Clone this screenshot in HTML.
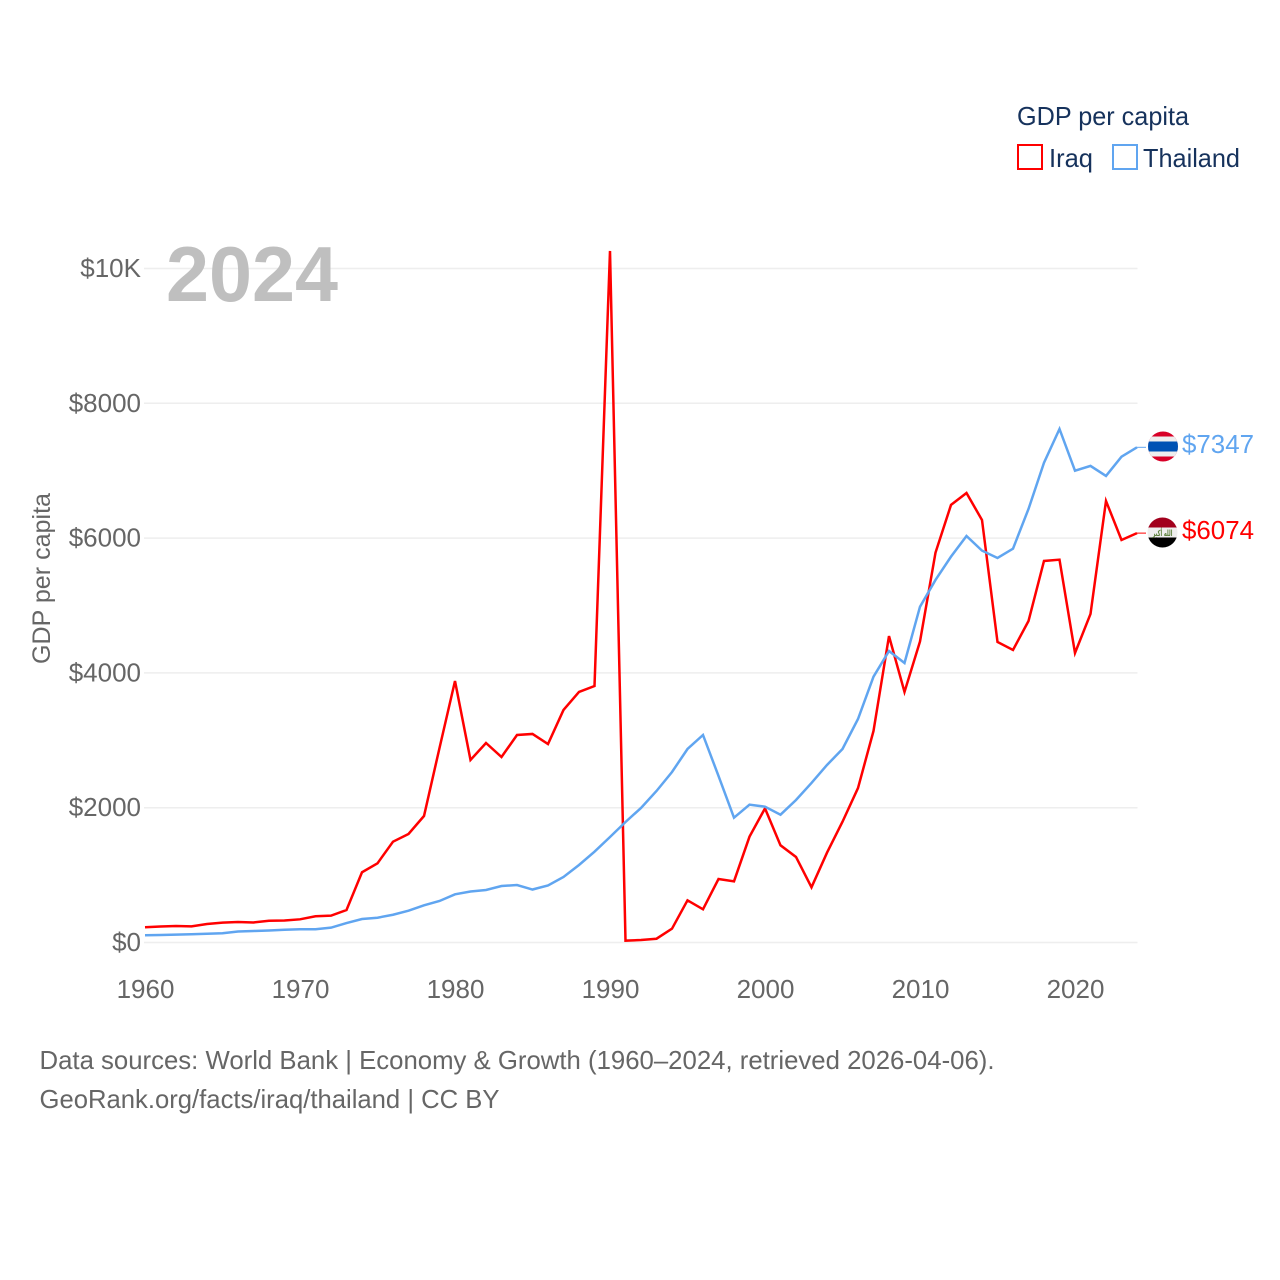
<!DOCTYPE html>
<html lang="en">
<head>
<meta charset="utf-8">
<title>GDP per capita: Iraq and Thailand</title>
<style>
html,body{margin:0;padding:0;background:#fff;width:1280px;height:1280px;overflow:hidden}
svg{display:block;font-family:"Liberation Sans",sans-serif}
</style>
</head>
<body>
<svg id="chart" xmlns="http://www.w3.org/2000/svg" width="1280" height="1280" viewBox="0 0 1280 1280">
  <defs>
    <clipPath id="flag-clip-th"><circle cx="1163" cy="446.5" r="15"/></clipPath>
    <clipPath id="flag-clip-iq"><circle cx="1162.5" cy="532.5" r="15"/></clipPath>
  </defs>
  <rect x="0" y="0" width="1280" height="1280" fill="#fff"/>
  <g id="grid"></g>
  <text x="166" y="301" font-size="78" font-weight="700" fill="#bfbfbf" textLength="172" lengthAdjust="spacingAndGlyphs">2024</text>
  <g id="y-ticks"></g>
  <g id="x-ticks"></g>
  <text transform="translate(50,578.5) rotate(-90)" text-anchor="middle" font-size="25" fill="#666" textLength="171" lengthAdjust="spacingAndGlyphs">GDP per capita</text>
  <g id="series"></g>

  <g>
    <text x="1017" y="125" font-size="26" fill="#16325c" textLength="172" lengthAdjust="spacingAndGlyphs">GDP per capita</text>
    <rect x="1018" y="145" width="24" height="24" fill="none" stroke="#ff0000" stroke-width="2"/>
    <text x="1049" y="167" font-size="26" fill="#16325c" textLength="44" lengthAdjust="spacingAndGlyphs">Iraq</text>
    <rect x="1113" y="145" width="24" height="24" fill="none" stroke="#60a5f0" stroke-width="2"/>
    <text x="1143" y="167" font-size="26" fill="#16325c" textLength="97" lengthAdjust="spacingAndGlyphs">Thailand</text>
  </g>

  <g clip-path="url(#flag-clip-th)">
    <rect x="1148" y="431.5" width="30" height="30" fill="#d80027"/>
    <rect x="1148" y="436.5" width="30" height="20" fill="#eeeeee"/>
    <rect x="1148" y="441.5" width="30" height="10" fill="#0052b4"/>
  </g>
  <g clip-path="url(#flag-clip-iq)">
    <rect x="1147" y="517" width="31" height="11" fill="#a2001d"/>
    <rect x="1147" y="527.5" width="31" height="10.5" fill="#eeeeee"/>
    <rect x="1147" y="537.5" width="31" height="11" fill="#000"/>
    <text x="1162.5" y="536" text-anchor="middle" font-size="8.5" font-weight="700" fill="#5a7f3a" textLength="20" lengthAdjust="spacingAndGlyphs" style="font-family:'DejaVu Sans',sans-serif">الله أكبر</text>
  </g>

  <text x="1182" y="453" font-size="25.5" fill="#60a5f0" textLength="72" lengthAdjust="spacingAndGlyphs">$7347</text>
  <text x="1182" y="539" font-size="25.5" fill="#ff0000" textLength="72" lengthAdjust="spacingAndGlyphs">$6074</text>

  <text x="39.5" y="1069" font-size="26" fill="#666" textLength="955" lengthAdjust="spacingAndGlyphs">Data sources: World Bank | Economy &amp; Growth (1960–2024, retrieved 2026-04-06).</text>
  <text x="39.5" y="1108" font-size="26" fill="#666" textLength="460" lengthAdjust="spacingAndGlyphs">GeoRank.org/facts/iraq/thailand | CC BY</text>
</svg>
<script>
var firstYear = 1960;
var iraqValues = [226,237,245,240,275,294,304,297,323,326,
  344,389,398,482,1042,1175,1496,1610,1877,2886,
  3880,2708,2960,2752,3079,3094,2945,3450,3717,3806,
  10260,27,37,56,205,626,493,942,908,1570,
  1990,1442,1269,819,1332,1792,2292,3138,4547,3717,
  4466,5784,6492,6669,6269,4459,4340,4770,5661,5680,
  4295,4874,6551,5972,6074];
var thailandValues = [107,111,116,122,129,137,163,171,178,190,
  197,197,220,289,349,368,412,472,552,616,
  715,757,779,838,853,786,846,972,1150,1347,
  1565,1788,1996,2248,2530,2871,3079,2471,1852,2045,
  2015,1896,2114,2367,2634,2871,3316,3944,4325,4147,
  4982,5379,5725,6032,5814,5705,5843,6432,7119,7619,
  7000,7071,6922,7208,7347];
var yTickValues = [0,2000,4000,6000,8000,10000];
var yTickLabels = ["$0","$2000","$4000","$6000","$8000","$10K"];
var xTickYears = [1960,1970,1980,1990,2000,2010,2020];

var NS = "http://www.w3.org/2000/svg";
function xScale(year){ return 145 + (year - 1960) * 15.5; }
function yScale(value){ return 942.5 - value * 0.0674; }

var gridGroup = document.getElementById("grid");
var yTickGroup = document.getElementById("y-ticks");
var xTickGroup = document.getElementById("x-ticks");
var seriesGroup = document.getElementById("series");

yTickValues.forEach(function(v, i){
  var line = document.createElementNS(NS, "line");
  line.setAttribute("x1", 144);
  line.setAttribute("x2", 1137.5);
  line.setAttribute("y1", yScale(v));
  line.setAttribute("y2", yScale(v));
  line.setAttribute("stroke", "#eeeeee");
  line.setAttribute("stroke-width", 1.5);
  
  
  gridGroup.appendChild(line);

  var t = document.createElementNS(NS, "text");
  t.setAttribute("x", 141);
  t.setAttribute("y", yScale(v) + 8.5);
  t.setAttribute("text-anchor", "end");
  t.setAttribute("font-size", 26);
  t.setAttribute("fill", "#666");
  t.textContent = yTickLabels[i];
  
  
  yTickGroup.appendChild(t);
});

xTickYears.forEach(function(year){
  var t = document.createElementNS(NS, "text");
  t.setAttribute("x", xScale(year) + 0.5);
  t.setAttribute("y", 998);
  t.setAttribute("text-anchor", "middle");
  t.setAttribute("font-size", 26);
  t.setAttribute("fill", "#666");
  t.textContent = String(year);
  
  
  xTickGroup.appendChild(t);
});

function linePoints(values){
  return values.map(function(v, i){
    return xScale(firstYear + i).toFixed(2) + "," + yScale(v).toFixed(2);
  }).join(" ");
}

var iraqLine = document.createElementNS(NS, "polyline");
iraqLine.setAttribute("points", linePoints(iraqValues));
iraqLine.setAttribute("fill", "none");
iraqLine.setAttribute("stroke", "#ff0000");
iraqLine.setAttribute("stroke-width", 2.5);
iraqLine.setAttribute("stroke-linejoin", "miter");


seriesGroup.appendChild(iraqLine);

var thailandLine = document.createElementNS(NS, "polyline");
thailandLine.setAttribute("points", linePoints(thailandValues));
thailandLine.setAttribute("fill", "none");
thailandLine.setAttribute("stroke", "#60a5f0");
thailandLine.setAttribute("stroke-width", 2.5);
thailandLine.setAttribute("stroke-linejoin", "miter");


seriesGroup.appendChild(thailandLine);

var iraqConnector = document.createElementNS(NS, "line");
iraqConnector.setAttribute("x1", xScale(firstYear + iraqValues.length - 1));
iraqConnector.setAttribute("x2", 1146);
iraqConnector.setAttribute("y1", yScale(iraqValues[iraqValues.length - 1]));
iraqConnector.setAttribute("y2", yScale(iraqValues[iraqValues.length - 1]));
iraqConnector.setAttribute("stroke", "#ff0000");
iraqConnector.setAttribute("stroke-width", 1);


seriesGroup.appendChild(iraqConnector);

var thailandConnector = document.createElementNS(NS, "line");
thailandConnector.setAttribute("x1", xScale(firstYear + thailandValues.length - 1));
thailandConnector.setAttribute("x2", 1146);
thailandConnector.setAttribute("y1", yScale(thailandValues[thailandValues.length - 1]));
thailandConnector.setAttribute("y2", yScale(thailandValues[thailandValues.length - 1]));
thailandConnector.setAttribute("stroke", "#60a5f0");
thailandConnector.setAttribute("stroke-width", 1);


seriesGroup.appendChild(thailandConnector);
</script>
</body>
</html>
